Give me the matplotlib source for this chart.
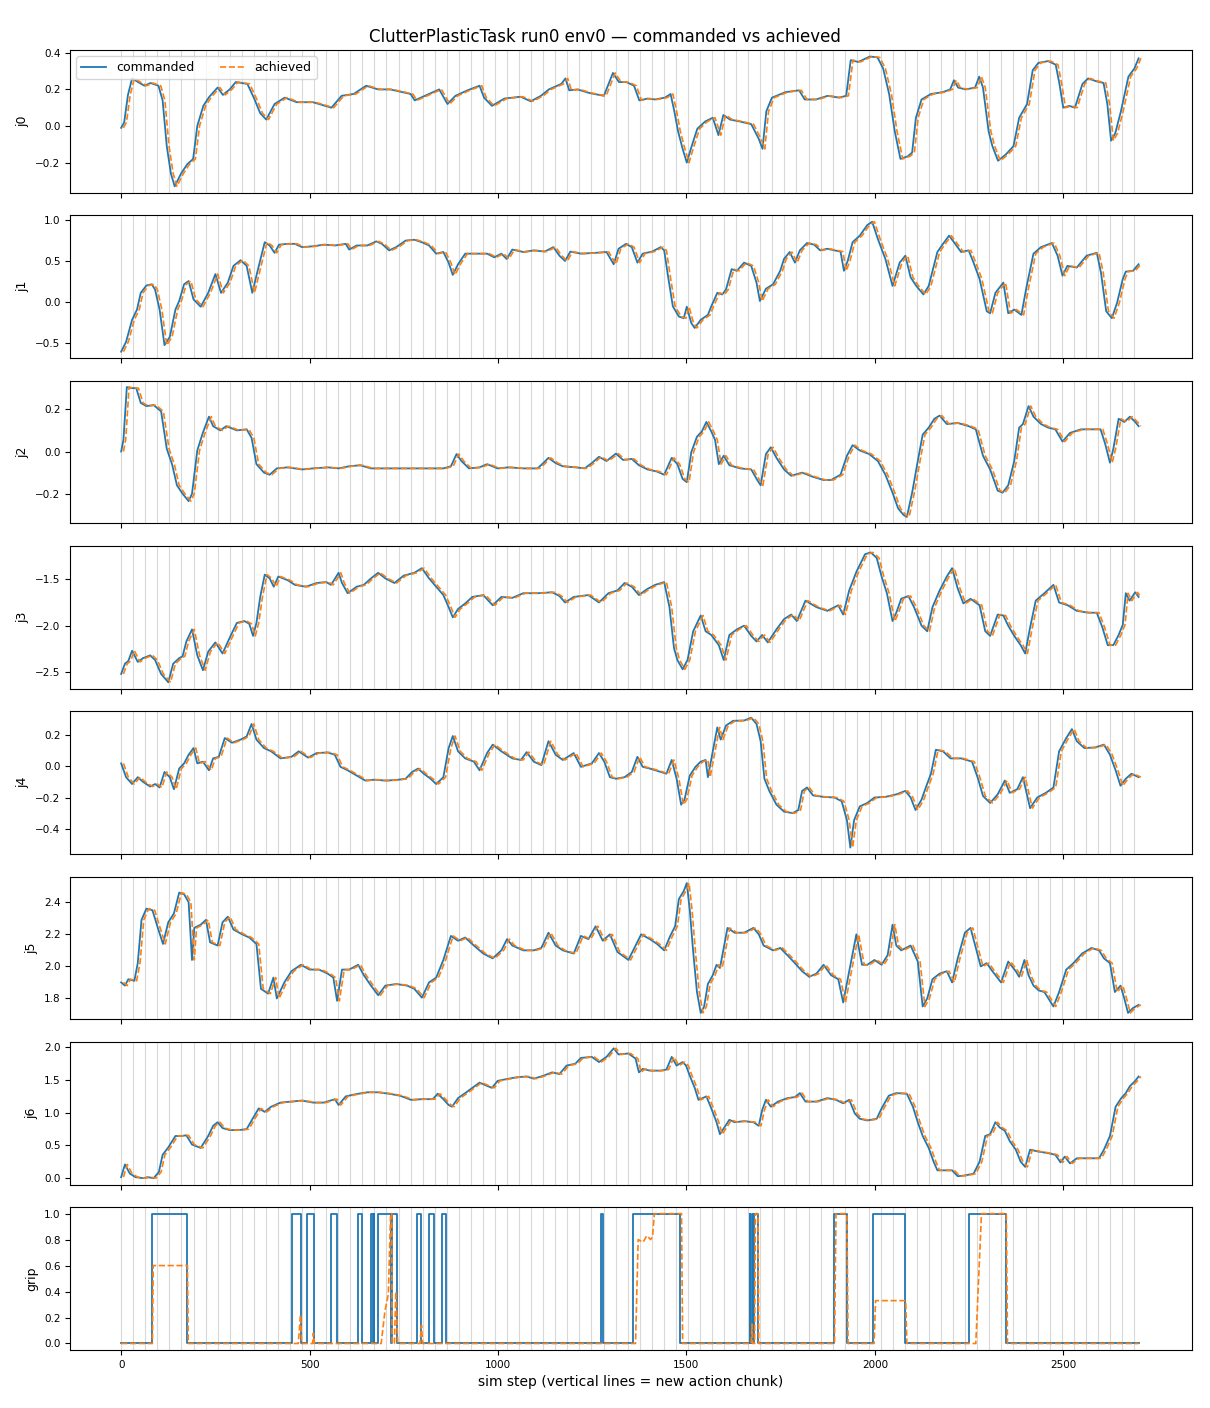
import numpy as np
import matplotlib
matplotlib.use('Agg')
import matplotlib.pyplot as plt


# Data (sim step, value) ===================================================
j0_pts = [(0, -0.01), (8, 0.02), (18, 0.17), (29, 0.26), (45, 0.24), (62, 0.22), (78, 0.235), (99, 0.22),
          (110, 0.14), (121, -0.11), (132, -0.26), (142, -0.33), (159, -0.26), (175, -0.21), (191, -0.18),
          (202, 0.0), (218, 0.11), (234, 0.16), (256, 0.21), (270, 0.17), (288, 0.20), (304, 0.24),
          (335, 0.23), (353, 0.15), (369, 0.07), (385, 0.035), (407, 0.12), (434, 0.155), (466, 0.13),
          (509, 0.13), (542, 0.11), (558, 0.10), (585, 0.165), (617, 0.175), (650, 0.22), (682, 0.20),
          (714, 0.20), (747, 0.185), (768, 0.175), (779, 0.14), (806, 0.165), (844, 0.20), (866, 0.12),
          (887, 0.165), (919, 0.195), (951, 0.22), (963, 0.155), (984, 0.11), (1017, 0.15), (1060, 0.16),
          (1087, 0.135), (1114, 0.165), (1135, 0.20), (1168, 0.23), (1179, 0.26), (1189, 0.195),
          (1211, 0.20), (1243, 0.18), (1281, 0.165), (1305, 0.29), (1321, 0.24), (1341, 0.24),
          (1361, 0.22), (1375, 0.14), (1397, 0.15), (1417, 0.145), (1443, 0.155), (1458, 0.175),
          (1468, 0.08), (1478, -0.03), (1490, -0.125), (1501, -0.20), (1514, -0.11), (1529, -0.015),
          (1550, 0.025), (1570, 0.045), (1585, -0.05), (1598, 0.06), (1616, 0.035), (1641, 0.025),
          (1672, 0.01), (1692, -0.07), (1702, -0.125), (1712, 0.08), (1727, 0.155), (1763, 0.185),
          (1799, 0.195), (1814, 0.145), (1844, 0.145), (1875, 0.165), (1905, 0.155), (1924, 0.165),
          (1936, 0.36), (1956, 0.35), (1987, 0.38), (2007, 0.375), (2022, 0.315), (2038, 0.175),
          (2053, -0.03), (2068, -0.18), (2088, -0.165), (2099, -0.145), (2109, 0.045), (2124, 0.145),
          (2149, 0.175), (2180, 0.185), (2200, 0.20), (2210, 0.25), (2221, 0.21), (2241, 0.20),
          (2266, 0.21), (2277, 0.27), (2287, 0.21), (2302, -0.03), (2312, -0.11), (2327, -0.19),
          (2348, -0.155), (2368, -0.11), (2383, 0.045), (2404, 0.12), (2419, 0.305), (2434, 0.345),
          (2460, 0.355), (2480, 0.335), (2490, 0.23), (2500, 0.10), (2516, 0.11), (2531, 0.10),
          (2551, 0.23), (2566, 0.26), (2587, 0.245), (2607, 0.235), (2617, 0.12), (2627, -0.08),
          (2638, -0.04), (2653, 0.08), (2673, 0.27), (2689, 0.315), (2700, 0.37)]

j1_pts = [(0, -0.61), (13, -0.49), (29, -0.22), (42, -0.095), (52, 0.11), (67, 0.20), (81, 0.215),
          (90, 0.15), (102, -0.095), (115, -0.53), (129, -0.43), (144, -0.095), (154, 0.01), (167, 0.215),
          (179, 0.255), (192, 0.03), (211, -0.06), (231, 0.11), (250, 0.34), (265, 0.11), (283, 0.235),
          (298, 0.44), (317, 0.51), (333, 0.44), (348, 0.11), (361, 0.36), (381, 0.73), (394, 0.69),
          (407, 0.60), (419, 0.70), (442, 0.71), (461, 0.71), (480, 0.67), (509, 0.68), (538, 0.70),
          (567, 0.69), (596, 0.71), (605, 0.64), (625, 0.69), (653, 0.69), (677, 0.74), (692, 0.71),
          (711, 0.63), (730, 0.67), (755, 0.75), (778, 0.76), (798, 0.73), (817, 0.69), (836, 0.59),
          (855, 0.61), (869, 0.48), (880, 0.33), (894, 0.46), (913, 0.59), (942, 0.59), (971, 0.59),
          (990, 0.545), (1009, 0.59), (1023, 0.525), (1038, 0.64), (1067, 0.61), (1095, 0.63),
          (1124, 0.615), (1147, 0.67), (1163, 0.565), (1178, 0.50), (1192, 0.615), (1220, 0.59),
          (1259, 0.60), (1288, 0.61), (1307, 0.46), (1320, 0.65), (1340, 0.71), (1355, 0.67),
          (1370, 0.48), (1384, 0.59), (1409, 0.615), (1432, 0.67), (1441, 0.63), (1451, 0.32),
          (1464, -0.055), (1480, -0.18), (1493, -0.20), (1501, -0.06), (1513, -0.26), (1522, -0.32),
          (1538, -0.22), (1557, -0.16), (1566, -0.055), (1582, 0.11), (1595, 0.09), (1605, 0.15),
          (1620, 0.40), (1634, 0.38), (1653, 0.48), (1672, 0.44), (1686, 0.235), (1695, 0.01),
          (1711, 0.16), (1730, 0.215), (1749, 0.38), (1759, 0.525), (1774, 0.61), (1788, 0.48),
          (1801, 0.63), (1820, 0.72), (1839, 0.70), (1855, 0.63), (1874, 0.65), (1893, 0.63),
          (1909, 0.615), (1918, 0.38), (1928, 0.50), (1941, 0.73), (1960, 0.81), (1980, 0.94),
          (1993, 0.98), (2008, 0.77), (2028, 0.525), (2047, 0.195), (2066, 0.48), (2081, 0.565),
          (2095, 0.30), (2110, 0.195), (2129, 0.09), (2143, 0.195), (2166, 0.61), (2181, 0.71),
          (2197, 0.81), (2210, 0.73), (2229, 0.61), (2249, 0.63), (2262, 0.48), (2278, 0.28),
          (2297, -0.115), (2306, -0.14), (2320, 0.11), (2341, 0.235), (2354, -0.14), (2370, -0.095),
          (2389, -0.16), (2402, 0.17), (2421, 0.59), (2441, 0.67), (2470, 0.72), (2485, 0.565),
          (2498, 0.32), (2511, 0.44), (2536, 0.42), (2562, 0.565), (2589, 0.60), (2600, 0.36),
          (2614, -0.115), (2629, -0.20), (2643, -0.01), (2658, 0.28), (2666, 0.37), (2685, 0.38),
          (2700, 0.46)]

j2_pts = [(0, 0.0), (6, 0.055), (15, 0.305), (29, 0.30), (40, 0.30), (52, 0.23), (67, 0.215), (86, 0.22),
          (106, 0.19), (121, 0.013), (135, -0.06), (148, -0.16), (163, -0.20), (179, -0.235), (188, -0.20),
          (202, 0.005), (217, 0.09), (233, 0.165), (244, 0.12), (263, 0.10), (279, 0.12), (307, 0.10),
          (333, 0.105), (346, 0.065), (359, -0.06), (379, -0.10), (394, -0.11), (413, -0.08),
          (442, -0.075), (480, -0.085), (509, -0.08), (548, -0.075), (577, -0.08), (605, -0.07),
          (634, -0.065), (663, -0.08), (701, -0.08), (740, -0.08), (778, -0.08), (817, -0.08),
          (855, -0.08), (875, -0.07), (890, -0.012), (903, -0.045), (923, -0.08), (951, -0.075),
          (971, -0.06), (999, -0.08), (1028, -0.075), (1067, -0.08), (1105, -0.08), (1120, -0.055),
          (1134, -0.03), (1153, -0.055), (1172, -0.07), (1205, -0.075), (1230, -0.08), (1249, -0.055),
          (1268, -0.025), (1288, -0.045), (1313, -0.01), (1332, -0.04), (1355, -0.035), (1374, -0.065),
          (1397, -0.085), (1422, -0.095), (1441, -0.11), (1461, -0.03), (1476, -0.06), (1490, -0.13),
          (1501, -0.145), (1513, -0.003), (1528, 0.07), (1541, 0.095), (1553, 0.14), (1566, 0.095),
          (1576, 0.055), (1586, -0.06), (1599, -0.02), (1614, -0.065), (1643, -0.08), (1672, -0.085),
          (1688, -0.135), (1697, -0.16), (1711, -0.012), (1724, 0.02), (1739, -0.03), (1759, -0.085),
          (1778, -0.115), (1807, -0.10), (1836, -0.12), (1864, -0.135), (1884, -0.135), (1909, -0.11),
          (1926, -0.02), (1941, 0.03), (1960, 0.005), (1985, -0.012), (2008, -0.045), (2028, -0.11),
          (2047, -0.195), (2062, -0.27), (2076, -0.30), (2085, -0.31), (2099, -0.195), (2114, -0.045),
          (2127, 0.08), (2143, 0.113), (2158, 0.155), (2172, 0.17), (2191, 0.13), (2220, 0.135),
          (2249, 0.12), (2268, 0.105), (2287, -0.02), (2306, -0.085), (2326, -0.185), (2339, -0.195),
          (2354, -0.16), (2370, -0.045), (2383, 0.113), (2393, 0.13), (2408, 0.215), (2421, 0.165),
          (2441, 0.13), (2460, 0.113), (2479, 0.105), (2498, 0.047), (2518, 0.088), (2547, 0.105),
          (2576, 0.105), (2599, 0.105), (2611, 0.038), (2624, -0.053), (2633, 0.013), (2647, 0.155),
          (2662, 0.14), (2677, 0.165), (2691, 0.14), (2700, 0.12)]

j3_pts = [(0, -2.52), (10, -2.41), (19, -2.38), (29, -2.27), (44, -2.39), (58, -2.35), (77, -2.32),
          (90, -2.37), (106, -2.52), (125, -2.61), (138, -2.41), (154, -2.35), (163, -2.33), (173, -2.17),
          (188, -2.04), (202, -2.32), (217, -2.48), (231, -2.28), (250, -2.18), (269, -2.30), (288, -2.13),
          (307, -1.97), (327, -1.95), (340, -1.98), (350, -2.11), (359, -1.97), (369, -1.69), (381, -1.45),
          (394, -1.49), (405, -1.58), (417, -1.47), (442, -1.51), (461, -1.56), (490, -1.58), (519, -1.54),
          (544, -1.53), (557, -1.56), (577, -1.43), (586, -1.54), (601, -1.65), (625, -1.58), (644, -1.56),
          (663, -1.49), (682, -1.43), (701, -1.49), (725, -1.54), (750, -1.46), (778, -1.43), (798, -1.38),
          (817, -1.49), (836, -1.58), (855, -1.67), (869, -1.80), (880, -1.91), (894, -1.82), (913, -1.76),
          (932, -1.69), (961, -1.67), (986, -1.78), (1009, -1.69), (1038, -1.70), (1067, -1.65),
          (1105, -1.65), (1144, -1.64), (1163, -1.68), (1178, -1.75), (1201, -1.69), (1240, -1.67),
          (1268, -1.75), (1293, -1.65), (1317, -1.62), (1336, -1.54), (1355, -1.58), (1374, -1.67),
          (1394, -1.61), (1417, -1.56), (1441, -1.53), (1455, -1.80), (1467, -2.24), (1476, -2.37),
          (1490, -2.47), (1503, -2.37), (1518, -2.06), (1538, -1.89), (1551, -2.06), (1566, -2.10),
          (1586, -2.21), (1599, -2.37), (1614, -2.10), (1634, -2.04), (1653, -2.00), (1672, -2.11),
          (1686, -2.17), (1701, -2.10), (1716, -2.18), (1739, -2.04), (1759, -1.93), (1778, -1.88),
          (1793, -1.95), (1816, -1.73), (1845, -1.80), (1874, -1.84), (1903, -1.78), (1916, -1.88),
          (1932, -1.62), (1951, -1.42), (1974, -1.23), (1989, -1.21), (2005, -1.27), (2018, -1.47),
          (2032, -1.65), (2047, -1.95), (2057, -1.86), (2070, -1.71), (2089, -1.68), (2104, -1.80),
          (2124, -2.00), (2139, -2.06), (2153, -1.80), (2172, -1.62), (2191, -1.47), (2205, -1.38),
          (2220, -1.60), (2235, -1.76), (2254, -1.71), (2278, -1.78), (2293, -2.06), (2306, -2.11),
          (2326, -1.88), (2341, -1.89), (2354, -2.00), (2370, -2.11), (2387, -2.21), (2399, -2.30),
          (2412, -2.02), (2427, -1.73), (2450, -1.65), (2474, -1.56), (2489, -1.75), (2512, -1.78),
          (2536, -1.84), (2566, -1.86), (2589, -1.86), (2604, -2.02), (2618, -2.21), (2633, -2.21),
          (2647, -2.10), (2658, -1.99), (2666, -1.65), (2676, -1.73), (2691, -1.64), (2700, -1.69)]

j4_pts = [(0, 0.018), (13, -0.07), (29, -0.114), (44, -0.07), (58, -0.10), (77, -0.13), (90, -0.114),
          (102, -0.136), (115, -0.037), (129, -0.07), (140, -0.147), (154, -0.015), (167, 0.018),
          (179, 0.073), (192, 0.116), (202, 0.018), (217, 0.029), (233, -0.026), (244, 0.05), (259, 0.06),
          (275, 0.18), (294, 0.15), (317, 0.17), (333, 0.19), (346, 0.27), (359, 0.17), (379, 0.116),
          (398, 0.095), (423, 0.05), (452, 0.06), (471, 0.095), (496, 0.055), (519, 0.084), (548, 0.088),
          (567, 0.073), (582, -0.004), (601, -0.026), (625, -0.06), (648, -0.092), (673, -0.086),
          (701, -0.092), (730, -0.088), (755, -0.08), (772, -0.037), (788, -0.015), (803, -0.048),
          (821, -0.08), (836, -0.114), (855, -0.07), (869, 0.116), (880, 0.193), (894, 0.095),
          (913, 0.05), (936, 0.029), (951, -0.026), (971, 0.084), (986, 0.138), (1009, 0.095),
          (1038, 0.05), (1061, 0.04), (1076, 0.09), (1095, 0.029), (1115, 0.007), (1134, 0.16),
          (1153, 0.073), (1172, 0.04), (1201, 0.084), (1220, -0.004), (1249, 0.018), (1268, 0.084),
          (1282, 0.029), (1297, -0.07), (1313, -0.08), (1336, -0.07), (1355, -0.037), (1370, 0.06),
          (1384, -0.004), (1403, -0.015), (1432, -0.037), (1447, -0.048), (1461, 0.04), (1474, -0.08),
          (1486, -0.246), (1495, -0.213), (1509, -0.06), (1524, -0.004), (1538, 0.029), (1551, 0.04),
          (1557, -0.07), (1570, 0.095), (1582, 0.248), (1591, 0.17), (1605, 0.26), (1624, 0.29),
          (1653, 0.292), (1672, 0.31), (1686, 0.27), (1697, 0.16), (1707, -0.08), (1720, -0.158),
          (1739, -0.246), (1759, -0.29), (1782, -0.30), (1797, -0.28), (1807, -0.158), (1820, -0.136),
          (1836, -0.187), (1864, -0.196), (1893, -0.20), (1912, -0.224), (1926, -0.345), (1935, -0.52),
          (1945, -0.345), (1960, -0.257), (1980, -0.235), (1999, -0.20), (2028, -0.196), (2057, -0.18),
          (2081, -0.158), (2095, -0.20), (2108, -0.28), (2124, -0.213), (2137, -0.125), (2149, -0.048),
          (2162, 0.105), (2181, 0.095), (2201, 0.05), (2229, 0.05), (2258, 0.029), (2274, -0.08),
          (2287, -0.19), (2306, -0.235), (2326, -0.18), (2345, -0.092), (2358, -0.17), (2378, -0.147),
          (2393, -0.07), (2412, -0.268), (2431, -0.20), (2454, -0.17), (2474, -0.136), (2489, 0.095),
          (2508, 0.18), (2523, 0.237), (2536, 0.16), (2556, 0.116), (2585, 0.12), (2608, 0.138),
          (2624, 0.073), (2639, -0.026), (2652, -0.125), (2666, -0.08), (2681, -0.048), (2700, -0.07)]

j5_pts = [(0, 1.90), (10, 1.88), (19, 1.92), (35, 1.91), (44, 2.02), (54, 2.29), (67, 2.36), (83, 2.35),
          (96, 2.25), (111, 2.14), (125, 2.275), (140, 2.33), (154, 2.46), (167, 2.45), (179, 2.40),
          (188, 2.04), (194, 2.24), (211, 2.26), (225, 2.29), (236, 2.15), (256, 2.13), (269, 2.275),
          (283, 2.31), (298, 2.23), (321, 2.20), (340, 2.18), (359, 2.14), (371, 1.86), (390, 1.83),
          (404, 1.93), (413, 1.80), (433, 1.90), (452, 1.97), (477, 2.01), (500, 1.98), (525, 1.98),
          (548, 1.955), (563, 1.93), (573, 1.785), (586, 1.98), (605, 1.98), (629, 2.01), (644, 1.945),
          (663, 1.88), (682, 1.82), (701, 1.88), (730, 1.89), (759, 1.88), (778, 1.86), (798, 1.805),
          (817, 1.90), (836, 1.93), (855, 2.04), (875, 2.19), (894, 2.16), (913, 2.18), (936, 2.13),
          (961, 2.08), (986, 2.05), (1009, 2.10), (1024, 2.17), (1038, 2.13), (1067, 2.10), (1095, 2.10),
          (1115, 2.115), (1134, 2.21), (1153, 2.13), (1172, 2.10), (1201, 2.08), (1220, 2.19),
          (1240, 2.17), (1259, 2.25), (1278, 2.16), (1297, 2.20), (1317, 2.09), (1346, 2.04),
          (1365, 2.13), (1380, 2.20), (1403, 2.17), (1422, 2.14), (1441, 2.10), (1457, 2.19),
          (1470, 2.25), (1480, 2.42), (1493, 2.47), (1501, 2.52), (1509, 2.35), (1518, 2.09),
          (1528, 1.84), (1538, 1.71), (1547, 1.75), (1557, 1.89), (1570, 1.945), (1580, 2.01),
          (1589, 1.99), (1601, 2.14), (1609, 2.24), (1628, 2.21), (1653, 2.21), (1678, 2.24),
          (1692, 2.20), (1705, 2.13), (1730, 2.10), (1749, 2.115), (1768, 2.07), (1788, 2.02),
          (1807, 1.97), (1826, 1.935), (1845, 1.955), (1864, 2.01), (1884, 1.945), (1903, 1.92),
          (1916, 1.775), (1932, 1.97), (1951, 2.20), (1966, 2.01), (1980, 2.01), (1999, 2.04),
          (2018, 2.01), (2034, 2.07), (2047, 2.26), (2057, 2.13), (2070, 2.10), (2095, 2.13),
          (2114, 2.03), (2127, 1.75), (2139, 1.80), (2153, 1.92), (2172, 1.955), (2191, 1.97),
          (2205, 1.90), (2220, 2.05), (2239, 2.21), (2254, 2.24), (2268, 2.115), (2281, 2.00),
          (2297, 2.02), (2312, 1.97), (2335, 1.90), (2354, 2.03), (2374, 1.97), (2383, 1.935),
          (2397, 2.04), (2408, 1.945), (2421, 1.88), (2435, 1.85), (2450, 1.84), (2474, 1.75),
          (2489, 1.84), (2508, 1.98), (2527, 2.02), (2550, 2.08), (2575, 2.115), (2595, 2.10),
          (2608, 2.05), (2624, 2.02), (2637, 1.84), (2652, 1.88), (2662, 1.80), (2672, 1.71),
          (2685, 1.74), (2700, 1.76)]

j6_pts = [(0, 0.016), (10, 0.21), (23, 0.07), (38, 0.016), (58, 0.0), (71, 0.016), (86, 0.0), (100, 0.094),
          (110, 0.357), (125, 0.47), (144, 0.645), (160, 0.645), (173, 0.655), (188, 0.514), (211, 0.462),
          (231, 0.645), (244, 0.80), (256, 0.855), (269, 0.766), (288, 0.735), (313, 0.735), (333, 0.75),
          (346, 0.88), (365, 1.066), (381, 1.013), (398, 1.092), (423, 1.155), (452, 1.17), (480, 1.186),
          (509, 1.155), (538, 1.155), (567, 1.207), (577, 1.118), (596, 1.25), (625, 1.286), (653, 1.312),
          (682, 1.312), (711, 1.29), (740, 1.26), (769, 1.197), (798, 1.207), (827, 1.207), (840, 1.29),
          (855, 1.207), (869, 1.118), (878, 1.092), (894, 1.223), (913, 1.30), (932, 1.38), (951, 1.46),
          (971, 1.41), (984, 1.38), (999, 1.486), (1019, 1.51), (1048, 1.54), (1076, 1.554), (1095, 1.52),
          (1120, 1.564), (1144, 1.617), (1163, 1.59), (1182, 1.72), (1205, 1.748), (1220, 1.837),
          (1249, 1.853), (1268, 1.774), (1288, 1.853), (1307, 1.984), (1320, 1.89), (1346, 1.905),
          (1365, 1.827), (1374, 1.617), (1384, 1.67), (1403, 1.643), (1432, 1.643), (1447, 1.66),
          (1461, 1.853), (1474, 1.72), (1490, 1.774), (1499, 1.72), (1509, 1.564), (1522, 1.38),
          (1532, 1.197), (1543, 1.223), (1553, 1.25), (1566, 1.066), (1580, 0.855), (1589, 0.672),
          (1601, 0.777), (1614, 0.892), (1628, 0.855), (1653, 0.871), (1678, 0.855), (1692, 0.80),
          (1701, 1.04), (1711, 1.197), (1724, 1.092), (1743, 1.17), (1768, 1.223), (1788, 1.239),
          (1801, 1.30), (1816, 1.17), (1845, 1.17), (1874, 1.223), (1897, 1.197), (1916, 1.144),
          (1932, 1.197), (1947, 0.987), (1960, 0.908), (1980, 0.882), (2005, 0.908), (2018, 1.066),
          (2037, 1.26), (2057, 1.30), (2085, 1.29), (2101, 1.092), (2114, 0.855), (2127, 0.645),
          (2143, 0.462), (2156, 0.252), (2166, 0.12), (2185, 0.12), (2205, 0.12), (2220, 0.03),
          (2239, 0.042), (2262, 0.068), (2278, 0.252), (2293, 0.645), (2306, 0.672), (2320, 0.855),
          (2331, 0.777), (2345, 0.724), (2358, 0.567), (2374, 0.436), (2387, 0.252), (2399, 0.173),
          (2412, 0.436), (2431, 0.41), (2460, 0.383), (2479, 0.357), (2493, 0.241), (2504, 0.33),
          (2518, 0.226), (2536, 0.304), (2566, 0.304), (2595, 0.304), (2608, 0.436), (2624, 0.645),
          (2639, 1.092), (2654, 1.223), (2666, 1.30), (2677, 1.407), (2691, 1.486), (2700, 1.554)]

# gripper: commanded is a step signal (change points), achieved follows with ramps
grip_cmd_pts = [(0, 0), (83, 1), (176, 0), (454, 1), (478, 0), (494, 1), (512, 0), (558, 1), (573, 0),
                (628, 1), (639, 0), (664, 1), (667, 0), (670, 1), (672, 0), (681, 1), (717, 0), (719, 1),
                (731, 0), (784, 1), (797, 0), (817, 1), (831, 0), (852, 1), (863, 0), (1274, 1), (1279, 0),
                (1357, 1), (1484, 0), (1668, 1), (1670, 0), (1674, 1), (1676, 0), (1680, 1), (1690, 0),
                (1891, 1), (1926, 0), (1995, 1), (2080, 0), (2249, 1), (2349, 0), (2700, 0)]
grip_ach_pts = [(0, 0), (83, 0), (85, 0.6), (176, 0.6), (178, 0), (470, 0), (476, 0.22), (479, 0),
                (508, 0), (510, 0.08), (513, 0), (690, 0), (700, 0.25), (709, 0.38), (715, 1.0), (718, 1.0),
                (719, 0), (725, 0), (729, 0.4), (734, 0), (793, 0), (797, 0.14), (800, 0), (1365, 0),
                (1372, 0.8), (1385, 0.78), (1395, 0.83), (1405, 0.8), (1410, 0.82), (1415, 1.0),
                (1487, 1.0), (1490, 0), (1672, 0), (1674, 0.15), (1676, 0), (1681, 0), (1683, 1.0),
                (1690, 1.0), (1692, 0), (1893, 0), (1897, 1.0), (1926, 1.0), (1929, 0), (1998, 0),
                (2002, 0.33), (2082, 0.33), (2085, 0), (2268, 0), (2283, 1.0), (2349, 1.0), (2352, 0),
                (2700, 0)]

joint_names = ['j0', 'j1', 'j2', 'j3', 'j4', 'j5', 'j6']
joint_pts = [j0_pts, j1_pts, j2_pts, j3_pts, j4_pts, j5_pts, j6_pts]
ach_lag = 6      # achieved trails commanded by a few sim steps
chunk_len = 32   # steps per action chunk
n_steps = 2700

# Plot =====================================================
fig, axes = plt.subplots(8, 1, sharex=True, figsize=(12.1, 14.08), dpi=100)
fig.subplots_adjust(left=0.058, right=0.985, top=0.9645, bottom=0.0412, hspace=0.157)
fig.suptitle('ClutterPlasticTask run0 env0 \u2014 commanded vs achieved', fontsize=12, y=0.980)

chunks = np.arange(0, n_steps, chunk_len)

for i, ax in enumerate(axes):
    for c in chunks:
        ax.axvline(c, color='0.85', lw=0.8, zorder=0)
    if i < 7:
        s, v = zip(*joint_pts[i])
        s = np.array(s)
        ax.plot(s, v, color='tab:blue', lw=1.3, label='commanded')
        ax.plot(s + ach_lag, v, color='tab:orange', lw=1.2, ls='--', label='achieved')
        ax.set_ylabel(joint_names[i], fontsize=9)
    else:
        s, v = zip(*grip_cmd_pts)
        ax.plot(s, v, color='tab:blue', lw=1.3, drawstyle='steps-post')
        s, v = zip(*grip_ach_pts)
        ax.plot(s, v, color='tab:orange', lw=1.2, ls='--')
        ax.set_ylabel('grip', fontsize=9)
    ax.tick_params(labelsize=7.5)

axes[0].legend(loc='upper left', ncol=2, fontsize=9)
axes[-1].set_xlabel('sim step (vertical lines = new action chunk)', fontsize=10)

plt.savefig('out.png', dpi=100)
